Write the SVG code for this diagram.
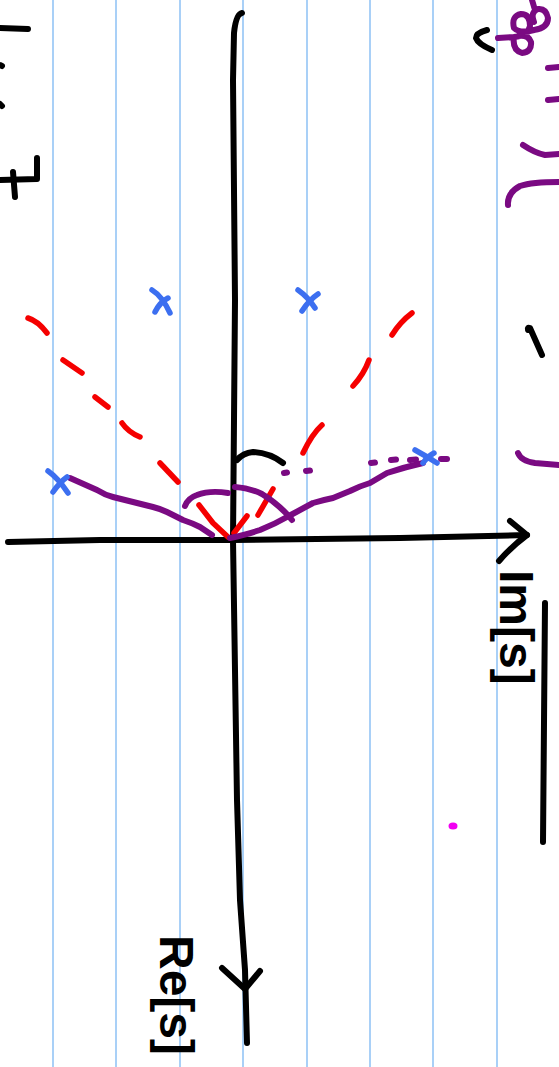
<svg xmlns="http://www.w3.org/2000/svg" width="559" height="1067" viewBox="0 0 559 1067">
<style>
.rule{stroke:#a9d0f7;stroke-width:2;fill:none}
.ink{fill:none;stroke-linecap:round;stroke-linejoin:round}
.blk{stroke:#000;stroke-width:6}
.red{stroke:#f50000;stroke-width:5.5}
.pur{stroke:#7a0a82;stroke-width:6}
.blu{stroke:#3c6ff0;stroke-width:5.5}
.lbl{font-family:"Liberation Sans",Arial,sans-serif;font-size:48px;font-weight:bold;fill:#000}
</style>
<rect width="559" height="1067" fill="#fff"/>
<g id="rules">
<line class="rule" x1="53" y1="0" x2="53" y2="1067"/>
<line class="rule" x1="116" y1="0" x2="116" y2="1067"/>
<line class="rule" x1="180" y1="0" x2="180" y2="1067"/>
<line class="rule" x1="243" y1="0" x2="243" y2="1067"/>
<line class="rule" x1="307" y1="0" x2="307" y2="1067"/>
<line class="rule" x1="370" y1="0" x2="370" y2="1067"/>
<line class="rule" x1="433" y1="0" x2="433" y2="1067"/>
<line class="rule" x1="497" y1="0" x2="497" y2="1067"/>
</g>
<g id="connectors">
<path id="re-axis" class="ink blk" d="M242,13 Q236,14 234,33 L233,80 L235,300 L233,540 L237,800 L240,900 L245,970 L247,1043"/>
<path class="ink blk" d="M222,968 L245,989 L260,971"/>
<path id="im-axis" class="ink blk" d="M8,542 L100,540 L233,540 L400,538 L527,535"/>
<path class="ink blk" d="M510,521 L527,535 Q512,546 499,561"/>
<path class="ink blk" d="M545,603 L543,842"/>
<path id="angle-arc" class="ink blk" d="M237,460 Q243,453 253,452 Q270,453 283,463"/>
<g id="red-dashes" class="ink red">
<path d="M28,318 Q38,321 47,333"/>
<path d="M63,360 L82,373"/>
<path d="M95,397 L108,407"/>
<path d="M122,423 Q128,432 140,437"/>
<path d="M160,463 L178,482"/>
<path d="M199,505 L213,523 L228,537"/>
<path d="M412,313 Q400,322 392,335"/>
<path d="M369,360 Q364,374 353,386"/>
<path d="M322,425 Q312,434 303,453"/>
<path d="M273,489 L258,515"/>
<path d="M247,516 L234,533"/>
</g>
<g id="locus" class="ink pur">
<path d="M70,478 L97,490 Q105,495 113,497 L153,507 Q161,509 167,512 L183,520 Q192,523 200,527 L212,535"/>
<path d="M185,506 Q188,498 197,495 Q210,490 228,493"/>
<path d="M235,487 Q250,488 262,494 Q280,505 292,520"/>
<path d="M230,538 Q248,534 260,530 Q275,524 287,517 L313,503 Q323,500 333,498 L350,491 Q360,486 370,483 L387,473 Q405,467 423,463"/>
<path d="M284,473 L287,472.5"/>
<path d="M306,471 L310,470.5"/>
<path d="M371,463 L375,462.5"/>
<path d="M391,460 L396,459.5"/>
<path d="M410,460 L416,459.5"/>
<path d="M441,459 L447,459"/>
</g>
</g>
<g id="poles" class="ink blu">
<g id="pole1"><path d="M152,290 Q162,296 170,313"/><path d="M155,312 Q160,302 168,298"/></g>
<g id="pole2"><path d="M298,290 Q308,297 315,308"/><path d="M302,311 Q309,300 318,294"/></g>
<g id="pole3"><path d="M48,471 Q58,478 68,493"/><path d="M53,492 Q60,482 67,477"/></g>
<g id="pole4"><path d="M415,450 Q426,456 437,463"/><path d="M423,463 Q428,456 434,453"/></g>
</g>
<g id="labels">
<text class="lbl" transform="translate(500,570) rotate(90)">Im[s]</text>
<text class="lbl" transform="translate(160,935) rotate(90)">Re[s]</text>
</g>
<g id="margin-marks" class="ink">
<path class="blk" d="M0,28 L28,29"/>
<path class="blk" d="M0,65 L2,66"/>
<path class="blk" d="M0,104 L2,106"/>
<path class="blk" d="M0,180 L37,179 L37,158"/>
<path class="blk" d="M13,172 L15,197"/>
<path class="blk" d="M487,30 Q476,33 476,38 Q478,44 492,50"/>
<path class="blk" d="M528,330 Q527,327 530,328 L542,355"/>
<path class="pur" d="M498,38 L514,37 Q528,36 530,26 Q530,14 521,14 Q511,16 514,28 Q520,34 534,30 Q548,28 548,18 Q546,8 538,9 Q530,12 534,22 M532,0 L535,10 M514,37 Q512,50 522,53 Q532,52 531,42 Q528,34 518,36"/>
<path class="pur" d="M548,68 L559,67"/>
<path class="pur" d="M548,100 L559,99"/>
<path class="pur" d="M523,145 Q535,153 545,155 L559,154"/>
<path class="pur" d="M508,205 Q507,193 520,186 Q532,182 559,182"/>
<path class="pur" d="M518,453 Q521,461 535,463 L559,465"/>
<ellipse cx="453" cy="826" rx="4.5" ry="3.5" fill="#f200f2"/>
</g>
</svg>
